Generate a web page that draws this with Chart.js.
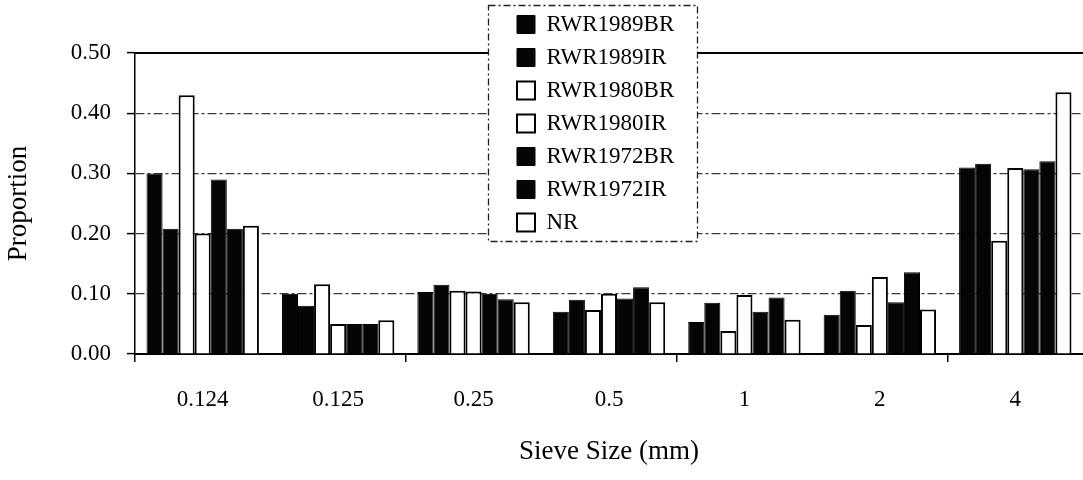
<!DOCTYPE html>
<html>
<head>
<meta charset="utf-8">
<script src="https://cdn.jsdelivr.net/npm/chart.js@4.4.1/dist/chart.umd.min.js"></script>
<style>
  html, body { margin: 0; padding: 0; background: #ffffff; }
  #wrap { width: 1083px; height: 480px; }
</style>
</head>
<body>
<div id="wrap"><canvas id="c" width="1083" height="480"></canvas></div>
<script>
// ---- data ----
const categories = ['0.124', '0.125', '0.25', '0.5', '1', '2', '4'];
const yTicks = [0, 0.1, 0.2, 0.3, 0.4, 0.5];

const RWR1989BR = [0.300, 0.100, 0.103, 0.070, 0.053, 0.065, 0.310];
const RWR1989IR = [0.208, 0.080, 0.115, 0.090, 0.085, 0.105, 0.316];
const RWR1980BR = [0.430, 0.116, 0.105, 0.073, 0.038, 0.048, 0.188];
const RWR1980IR = [0.200, 0.050, 0.104, 0.100, 0.098, 0.128, 0.309];
const RWR1972BR = [0.290, 0.050, 0.100, 0.092, 0.070, 0.086, 0.307];
const RWR1972IR = [0.208, 0.050, 0.091, 0.111, 0.094, 0.136, 0.320];
const NR        = [0.213, 0.056, 0.086, 0.086, 0.057, 0.074, 0.435];

const seriesNames = ['RWR1989BR', 'RWR1989IR', 'RWR1980BR', 'RWR1980IR', 'RWR1972BR', 'RWR1972IR', 'NR'];
const seriesData  = [RWR1989BR, RWR1989IR, RWR1980BR, RWR1980IR, RWR1972BR, RWR1972IR, NR];
const seriesDark  = [true, true, false, false, true, true, false];

// ---- styling ----
const FONT = 'Liberation Serif, Times New Roman, serif';
const DARK = '#050505';

const datasets = seriesNames.map((name, i) => ({
  label: name,
  data: seriesData[i],
  backgroundColor: seriesDark[i] ? DARK : '#ffffff',
  borderColor: '#000000',
  borderWidth: seriesDark[i] ? 1 : 2,
  categoryPercentage: 0.83,
  barPercentage: 1.0
}));

const legendFrame = {
  id: 'legendFrame',
  start(chart) {
    const lg = chart.legend;
    lg._layers = () => [{
      z: 10,
      draw: (area) => {
        const ctx = chart.ctx;
        ctx.save();
        ctx.fillStyle = '#ffffff';
        ctx.fillRect(488, 5, 209, 236);
        ctx.strokeStyle = '#222';
        ctx.lineWidth = 1.3;
        ctx.setLineDash([7, 3, 2, 3]);
        ctx.strokeRect(488.5, 5.5, 209, 236);
        ctx.restore();
        lg.draw(area);
      }
    }];
  },
  afterLayout(chart) {
    const lg = chart.legend;
    lg.left = 507; lg.right = 697; lg.top = 3; lg.bottom = 300;
    lg.width = lg.right - lg.left; lg.height = lg.bottom - lg.top;
  }
};

new Chart(document.getElementById('c'), {
  type: 'bar',
  data: { labels: categories, datasets },
  plugins: [legendFrame],
  options: {
    responsive: false,
    animation: false,
    events: [],
    layout: { padding: { top: 53, left: 0, right: 0, bottom: 0 } },
    plugins: {
      tooltip: { enabled: false },
      legend: {
        position: 'chartArea',
        align: 'start',
        labels: {
          boxWidth: 18, boxHeight: 18, padding: 10,
          color: '#000', font: { family: FONT, size: 23 }
        }
      }
    },
    scales: {
      x: {
        type: 'category',
        position: 'bottom',
        offset: true,
        grid: {
          offset: true, drawOnChartArea: false, drawTicks: true, tickLength: 8,
          color: '#000', lineWidth: 1.5,
          tickColor: (c) => (c.index % 2 === 0 ? '#000' : 'rgba(0,0,0,0)')
        },
        border: { display: true, color: '#000', width: 2 },
        ticks: { color: '#000', font: { family: FONT, size: 23 }, padding: 24, maxRotation: 0, autoSkip: false },
        title: { display: true, text: 'Sieve Size (mm)', color: '#000', font: { family: FONT, size: 27 }, padding: { top: 0, bottom: 12 } },
        afterFit: (s) => { s.height = 126; }
      },
      xTop: {
        type: 'category',
        axis: 'x',
        position: 'top',
        offset: true,
        grid: { display: false },
        ticks: { display: false },
        border: { display: true, color: '#000', width: 2 },
        afterFit: (s) => { s.height = 0; }
      },
      y: {
        min: 0, max: 0.5,
        afterBuildTicks: (s) => { s.ticks = yTicks.map(v => ({ value: v })); },
        ticks: { color: '#000', font: { family: FONT, size: 23 }, padding: 16, callback: (v) => Number(v).toFixed(2) },
        grid: { color: '#3a3a3a', lineWidth: 1.2, tickColor: '#000', tickLength: 8, tickWidth: 1.5 },
        border: { display: true, color: '#000', width: 1.5, dash: [9, 3, 3, 3] },
        title: { display: true, text: 'Proportion', color: '#000', font: { family: FONT, size: 27 }, padding: { top: 3, bottom: 0 } },
        afterFit: (s) => { s.width = 135; }
      }
    }
  }
});
</script>
</body>
</html>
